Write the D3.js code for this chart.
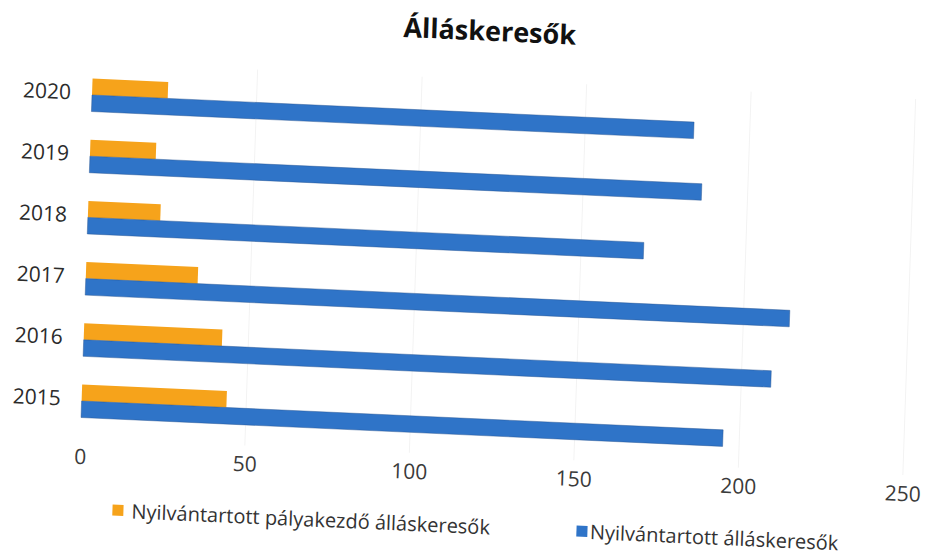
<!DOCTYPE html>
<html>
<head>
<meta charset="utf-8">
<script src="https://cdn.jsdelivr.net/npm/d3@7"></script>
<style>
  html, body { margin: 0; padding: 0; background: #ffffff; }
  svg { display: block; }
  text { font-family: "Open Sans", "Noto Sans", sans-serif; }
</style>
</head>
<body>
<svg id="chart" width="926" height="557"></svg>
<script>
// Registered job seekers per year
const years = ["2015", "2016", "2017", "2018", "2019", "2020"];
const palyakezdo = [44, 42, 34, 22, 20, 23];      // Nyilvántartott pályakezdő álláskeresők
const osszes = [195, 209, 214, 169, 186, 183];    // Nyilvántartott álláskeresők
const xTicks = [0, 50, 100, 150, 200, 250];
const seriesNames = ["Nyilvántartott pályakezdő álláskeresők", "Nyilvántartott álláskeresők"];
const seriesKeys = ["palyakezdo", "osszes"];
const seriesColors = ["#f6a31b", "#2f74c8"];
const title = "Álláskeresők";

const rows = years.map((y, i) => ({ year: y, palyakezdo: palyakezdo[i], osszes: osszes[i] }));

const svg = d3.select("#chart");
svg.append("rect").attr("width", 926).attr("height", 557).attr("fill", "#ffffff");

// The printed page sits slightly tilted: the whole chart is drawn in a skewed frame
const g = svg.append("g")
  .attr("transform", "translate(92,95) matrix(1,0.045,-0.034,1,0,0) translate(-92,-95)");

const x = d3.scaleLinear().domain([0, 250]).range([92, 92 + 250 * 3.29]);
const y = d3.scaleBand()
  .domain(years.slice().reverse())
  .range([64.4, 431.6])
  .paddingInner(0.46)
  .paddingOuter(0.23);
const inner = d3.scaleBand().domain(seriesKeys).range([0, y.bandwidth()]);

// faint vertical gridlines
g.append("g").selectAll("line")
  .data(xTicks.slice(1))
  .join("line")
  .attr("x1", d => x(d)).attr("x2", d => x(d))
  .attr("y1", 62).attr("y2", 438)
  .attr("stroke", "#f3f3f3").attr("stroke-width", 1);

// bars
const groups = g.append("g").selectAll("g")
  .data(rows)
  .join("g")
  .attr("transform", d => `translate(0,${y(d.year)})`);

seriesKeys.forEach((key, si) => {
  groups.append("rect")
    .attr("x", x(0))
    .attr("y", inner(key))
    .attr("width", d => x(d[key]) - x(0))
    .attr("height", inner.bandwidth())
    .attr("fill", seriesColors[si])
    .attr("stroke", si === 1 ? "#23528e" : "none")
    .attr("stroke-opacity", 0.55)
    .attr("stroke-width", 0.8);
});

// category axis
const yAxis = g.append("g")
  .attr("transform", `translate(${x(0)},0)`)
  .call(d3.axisLeft(y).tickSize(0).tickPadding(21));
yAxis.select(".domain").remove();
yAxis.selectAll("text")
  .attr("dy", "0.25em")
  .style("font-family", "'Open Sans', sans-serif")
  .style("font-size", "21px")
  .attr("fill", "#2b2b2b");

// value axis
const xAxis = g.append("g")
  .attr("transform", "translate(0,446)")
  .call(d3.axisBottom(x).tickValues(xTicks).tickSize(0).tickPadding(3));
xAxis.select(".domain").remove();
xAxis.selectAll("text")
  .style("font-family", "'Open Sans', sans-serif")
  .style("font-size", "21px")
  .attr("fill", "#3a3a3a");

// title
g.append("text")
  .attr("x", 487)
  .attr("y", 23)
  .attr("text-anchor", "middle")
  .style("font-size", "27px")
  .style("font-weight", "700")
  .attr("fill", "#111111")
  .text(title);

// legend
const legendPos = [{ sx: 126.5, tx: 145.5 }, { sx: 590.5, tx: 604 }];
const legend = g.append("g").selectAll("g")
  .data(seriesNames)
  .join("g");
legend.append("rect")
  .attr("x", (d, i) => legendPos[i].sx)
  .attr("y", 503)
  .attr("width", 11)
  .attr("height", 11)
  .attr("fill", (d, i) => seriesColors[i]);
legend.append("text")
  .attr("x", (d, i) => legendPos[i].tx)
  .attr("y", 516)
  .style("font-size", "20px")
  .attr("fill", "#333333")
  .text(d => d);
</script>
</body>
</html>
